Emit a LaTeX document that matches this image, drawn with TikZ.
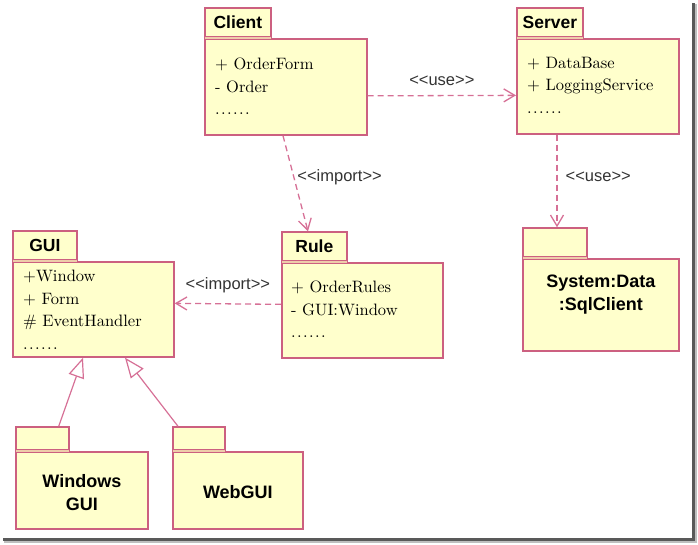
\documentclass[tikz,border=0pt]{standalone}
\usepackage{fontspec}
\setmainfont{lmroman10-regular.otf}
\newfontfamily\pkgsans{Liberation Sans}
\usepackage{xcolor}
\usetikzlibrary{arrows.meta}

\definecolor{pkgred}{RGB}{204,96,128}
\definecolor{pkgfill}{RGB}{255,255,204}
\definecolor{depline}{RGB}{214,112,150}
\definecolor{tabsep}{RGB}{238,204,170}

\newcommand{\etcdots}{.\kern1.4pt.\kern1.4pt.\kern1.4pt.\kern1.4pt.\kern1.4pt.}

\tikzset{
    pkgbody/.style={draw=pkgred, fill=pkgfill, line width=1.7pt, inner sep=0pt},
    pkgtab/.style={pkgbody, minimum height=29pt, font=\pkgsans\bfseries\fontsize{17.5}{20}\selectfont},
    tabline/.style={draw=tabsep, line width=1.2pt},
    pkgitems/.style={anchor=north west, inner sep=0pt, align=left, font=\fontsize{16.5}{22.5}\selectfont},
    pkgname/.style={align=center, inner sep=0pt, font=\pkgsans\bfseries\fontsize{18}{23}\selectfont},
    dep/.style={draw=depline, line width=1.3pt, dash pattern=on 6pt off 4pt, -{Straight Barb[length=11pt,width=13pt,line width=1.3pt]}},
    deplabel/.style={font=\pkgsans\fontsize{16.5}{18}\selectfont, text=black!80, inner sep=0pt},
    gen/.style={draw=depline, line width=1.2pt, -{Triangle[open, length=20pt, width=16pt, fill=white]}}
}

\begin{document}
\begin{tikzpicture}[x=1pt,y=1pt,yscale=-1]
            \useasboundingbox (0,0) rectangle (698,545);
            %frame shadow
            \fill [black!65] (692,3) rectangle (695,541);
            \fill [black!25] (695,4) rectangle (697,543);
            \fill [black!65] (3,538) rectangle (695,541);
            \fill [black!25] (4,541) rectangle (697,543);
            %
            %Client
            \node [pkgbody, minimum width=162pt, minimum height=96pt, anchor=north west] (clientbody) at (204,38) {};
            \node [pkgtab, minimum width=66pt, anchor=south west] (clienttab) at (clientbody.north west) {Client};
            \draw [tabline] ([xshift=1pt]clienttab.south west) -- ([xshift=-1pt]clienttab.south east);
            \node [pkgitems] (clientitems) at ([xshift=11pt,yshift=20pt]clientbody.north west) {+ OrderForm\\- Order\\\etcdots};
            %Server
            \node [pkgbody, minimum width=162pt, minimum height=95pt, anchor=north west] (serverbody) at (516,38) {};
            \node [pkgtab, minimum width=66pt, anchor=south west] (servertab) at (serverbody.north west) {Server};
            \draw [tabline] ([xshift=1pt]servertab.south west) -- ([xshift=-1pt]servertab.south east);
            \node [pkgitems] (serveritems) at ([xshift=11pt,yshift=19pt]serverbody.north west) {+ DataBase\\+ LoggingService\\\etcdots};
            %System:Data
            \node [pkgbody, minimum width=156pt, minimum height=92pt, anchor=north west] (sysbody) at (522,258) {};
            \node [pkgtab, minimum width=64pt, anchor=south west] (systab) at (sysbody.north west) {};
            \draw [tabline] ([xshift=1pt]systab.south west) -- ([xshift=-1pt]systab.south east);
            \node [pkgname] (sysname) at ([yshift=-10pt]sysbody.center) {System:Data\\:SqlClient};
            %Rule
            \node [pkgbody, minimum width=161pt, minimum height=95pt, anchor=north west] (rulebody) at (281,262) {};
            \node [pkgtab, minimum width=65pt, anchor=south west] (ruletab) at (rulebody.north west) {Rule};
            \draw [tabline] ([xshift=1pt]ruletab.south west) -- ([xshift=-1pt]ruletab.south east);
            \node [pkgitems] (ruleitems) at ([xshift=10pt,yshift=19pt]rulebody.north west) {+ OrderRules\\- GUI:Window\\\etcdots};
            %GUI
            \node [pkgbody, minimum width=161pt, minimum height=95pt, anchor=north west] (guibody) at (12,261) {};
            \node [pkgtab, minimum width=64pt, anchor=south west] (guitab) at (guibody.north west) {GUI};
            \draw [tabline] ([xshift=1pt]guitab.south west) -- ([xshift=-1pt]guitab.south east);
            \node [pkgitems] (guiitems) at ([xshift=11pt,yshift=9pt]guibody.north west) {+Window\\+ Form\\\# EventHandler\\\etcdots};
            %Windows GUI
            \node [pkgbody, minimum width=132pt, minimum height=77pt, anchor=north west] (winbody) at (15,451) {};
            \node [pkgtab, minimum width=53pt, minimum height=23pt, anchor=south west] (wintab) at (winbody.north west) {};
            \draw [tabline] ([xshift=1pt]wintab.south west) -- ([xshift=-1pt]wintab.south east);
            \node [pkgname] (winname) at ([yshift=2pt]winbody.center) {Windows\\GUI};
            %WebGUI
            \node [pkgbody, minimum width=130pt, minimum height=77pt, anchor=north west] (webbody) at (172,451) {};
            \node [pkgtab, minimum width=52pt, minimum height=23pt, anchor=south west] (webtab) at (webbody.north west) {};
            \draw [tabline] ([xshift=1pt]webtab.south west) -- ([xshift=-1pt]webtab.south east);
            \node [pkgname] (webname) at ([yshift=2pt]webbody.center) {WebGUI};
            %
            %dependencies
            \draw [dep] ([yshift=9pt]clientbody.east) -- ([yshift=9pt]serverbody.west) node [deplabel, midway, above=9pt] (uselabel) {<{}<use>{}>};
            \draw [dep] ([xshift=41pt]serverbody.south west) -- ([xshift=35pt]systab.north west) node [deplabel, pos=0.5, anchor=west, xshift=8pt, yshift=4pt] (sqllabel) {<{}<use>{}>};
            \draw [dep] ([xshift=79pt]clientbody.south west) -- ([xshift=27pt]ruletab.north west) node [deplabel, pos=0.43, anchor=west, xshift=3pt] (implabel) {<{}<import>{}>};
            \draw [dep] ([yshift=-6pt]rulebody.west) -- ([yshift=-6pt]guibody.east) node [deplabel, midway, above=10pt] (guilabel) {<{}<import>{}>};
            %generalization
            \draw [gen] ([xshift=-11pt]wintab.north east) -- ([xshift=71pt]guibody.south west);
            \draw [gen] ([xshift=6pt]webtab.north west) -- ([xshift=113pt]guibody.south west);
            %
\end{tikzpicture}
\end{document}
